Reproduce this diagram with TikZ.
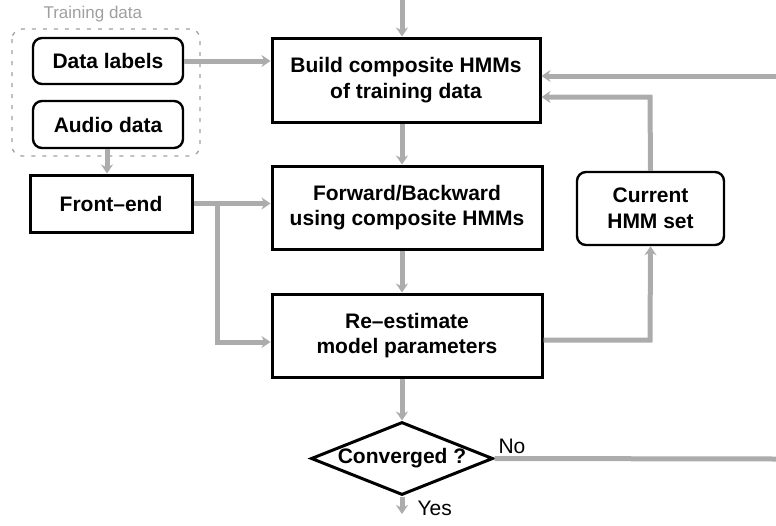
\documentclass[tikz,border=0pt]{standalone}
\usepackage{fontspec}
\setmainfont{Liberation Sans}
\usetikzlibrary{arrows.meta,shapes.geometric}
\begin{document}
\begin{tikzpicture}[x=1pt,y=-1pt,
  box/.style={draw=black,line width=3pt,fill=white,font=\fontsize{21}{25.5}\selectfont\bfseries,align=center,inner sep=0pt},
  rbox/.style={draw=black,line width=2.4pt,rounded corners=9pt,fill=white,font=\fontsize{21}{25.5}\selectfont\bfseries,align=center,inner sep=0pt},
  flow/.style={draw=gray!65,line width=5pt,-{Stealth[length=9pt,width=12pt]}},
  lbl/.style={font=\fontsize{21}{25}\selectfont}]
\useasboundingbox (0,0) rectangle (776,525);
% training data group
\draw[gray!75,line width=1.3pt,dash pattern=on 4pt off 7pt,rounded corners=10pt] (12,29) rectangle (200,156);
\node[anchor=west,text=gray!75,font=\fontsize{17}{20}\selectfont] (tdl) at (40,14) {Training data};
\node[rbox,minimum width=150pt,minimum height=46pt] (dl) at (108,61) {Data labels};
\node[rbox,minimum width=150pt,minimum height=47pt] (ad) at (108,124.5) {Audio data};
\node[box,minimum width=162pt,minimum height=57pt] (fe) at (111,203.5) {Front--end};
\node[box,minimum width=268pt,minimum height=84pt] (build) at (406,80) {Build composite HMMs\\of training data};
\node[box,minimum width=270pt,minimum height=83pt] (fwd) at (407,207.5) {Forward/Backward\\using composite HMMs};
\node[box,minimum width=270pt,minimum height=83pt] (re) at (407,335.5) {Re--estimate\\model parameters};
\node[rbox,minimum width=147pt,minimum height=73pt] (cur) at (650.5,208.5) {Current\\HMM set};
\node[draw=black,line width=3pt,fill=white,diamond,aspect=2.5,inner sep=0pt,minimum width=182pt,minimum height=73pt,font=\fontsize{21}{25}\selectfont\bfseries] (conv) at (402,458.5) {Converged ?};
\coordinate (top) at (402,0);
\coordinate (rt1) at (776,76);
\coordinate (rt2) at (776,459);
\coordinate (yes) at (402,514);
\coordinate (br) at (217,203.5);
\coordinate (lp) at (650,340);
\coordinate (up) at (650,97);
% connectors
\draw[flow] (top) -- (build.north -| top);
\draw[flow] (dl.east) -- (dl.east -| build.west);
\draw[flow] (ad.south -| 107,0) -- (fe.north -| 107,0);
\draw[flow] (build.south -| top) -- (fwd.north -| top);
\draw[flow] (fe.east) -- (fe.east -| fwd.west);
\draw[flow] (br) -- (217,342) -- (re.west |- 0,342);
\draw[flow] (fwd.south -| top) -- (re.north -| top);
\draw[flow] (re.east |- lp) -- (lp) -- (cur.south);
\draw[flow] (cur.north) -- (up) -- (build.east |- up);
\draw[flow] (rt1) -- (build.east |- rt1);
\draw[flow] (re.south -| top) -- (conv.north);
\draw[draw=gray!65,line width=5pt] (conv.east) -- (rt2);
\draw[flow] (conv.south) -- (yes);
\node[lbl,anchor=south west] (nolbl) at (495,457) {No};
\node[lbl,anchor=west] (yeslbl) at (414,508) {Yes};
\end{tikzpicture}
\end{document}
